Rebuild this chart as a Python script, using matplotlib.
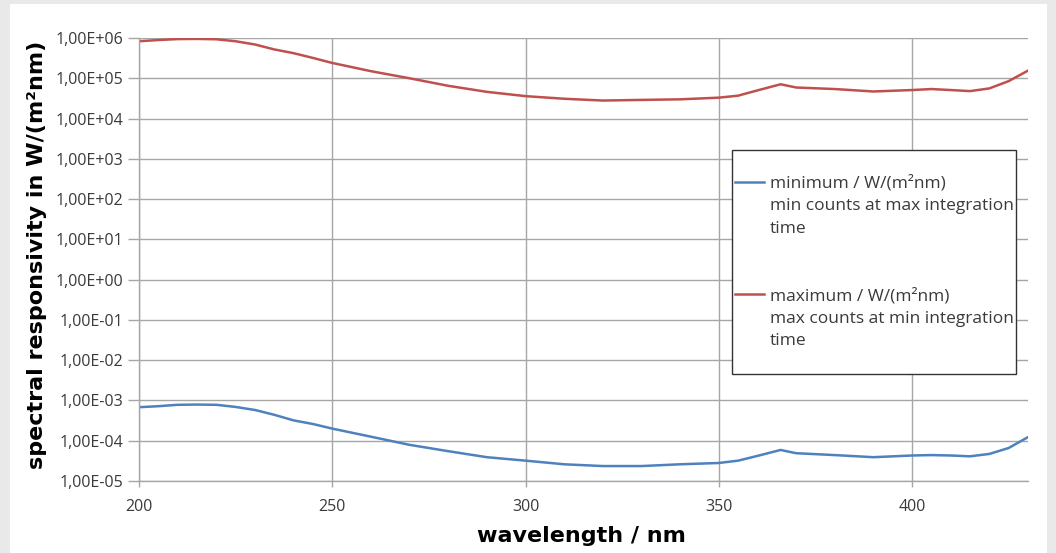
import matplotlib
matplotlib.use('Agg')
import matplotlib.pyplot as plt
from matplotlib.patches import Rectangle
from matplotlib.lines import Line2D
from matplotlib.ticker import FuncFormatter, FixedLocator

# longueurs d'onde en nm
wavelength = [200, 205, 210, 215, 220, 225, 230, 235, 240, 245, 250, 260, 270, 280,
              290, 300, 310, 320, 330, 340, 350, 355, 360, 366, 370, 380, 390, 400,
              405, 410, 415, 420, 425, 430]

# minimum / W/(m2nm)
minimum = [6.8e-4, 7.2e-4, 7.8e-4, 7.9e-4, 7.8e-4, 6.9e-4, 5.8e-4, 4.4e-4, 3.2e-4, 2.6e-4,
           2.0e-4, 1.26e-4, 7.9e-5, 5.5e-5, 3.9e-5, 3.2e-5, 2.6e-5, 2.35e-5, 2.35e-5, 2.6e-5,
           2.8e-5, 3.2e-5, 4.2e-5, 5.9e-5, 4.9e-5, 4.4e-5, 3.9e-5, 4.3e-5, 4.4e-5, 4.3e-5,
           4.1e-5, 4.7e-5, 6.6e-5, 1.23e-4]

# maximum / W/(m2nm)
maximum = [8.3e5, 8.9e5, 9.4e5, 9.5e5, 9.3e5, 8.3e5, 6.9e5, 5.2e5, 4.2e5, 3.2e5,
           2.4e5, 1.5e5, 1.0e5, 6.5e4, 4.6e4, 3.6e4, 3.1e4, 2.8e4, 2.9e4, 3.0e4,
           3.3e4, 3.7e4, 5.0e4, 7.1e4, 5.9e4, 5.4e4, 4.7e4, 5.1e4, 5.4e4, 5.1e4,
           4.8e4, 5.6e4, 8.5e4, 1.55e5]

x_ticks = [200, 250, 300, 350, 400]
y_ticks = [10.0**k for k in range(-5, 7)]

lab_min = ['minimum / W/(m²nm)', 'min counts at max integration', 'time']
lab_max = ['maximum / W/(m²nm)', 'max counts at min integration', 'time']

bleu = '#4f81bd'
rouge = '#c0504d'
gris = '#a6a6a6'

fig = plt.figure(figsize=(10.56, 5.53), dpi=100, facecolor='#e9e9e9')
fig.patches.append(Rectangle((10/1056, 0), 1037/1056, 549/553, transform=fig.transFigure,
                             facecolor='white', edgecolor='none', zorder=-1))
ax = fig.add_axes([139/1056, 72/553, 889/1056, 443/553])

ax.plot(wavelength, minimum, color=bleu, lw=1.8)
ax.plot(wavelength, maximum, color=rouge, lw=1.8)

ax.set_yscale('log')
ax.set_xlim(200, 430)
ax.set_ylim(1e-5, 1e6)
ax.xaxis.set_major_locator(FixedLocator(x_ticks))
ax.yaxis.set_major_locator(FixedLocator(y_ticks))
ax.yaxis.set_minor_locator(FixedLocator([]))
ax.yaxis.set_major_formatter(FuncFormatter(lambda v, p: ('%.2E' % v).replace('.', ',')))

ax.grid(True, color=gris, lw=1)
for s in ['top', 'right']:
    ax.spines[s].set_visible(False)
for s in ['left', 'bottom']:
    ax.spines[s].set_color(gris)
    ax.spines[s].set_linewidth(1)
ax.tick_params(axis='y', length=8, color=gris, width=1, labelsize=11.5,
               labelcolor='#3a3a3a', pad=3)
ax.tick_params(axis='x', length=4, color=gris, width=1, labelsize=11.5,
               labelcolor='#3a3a3a', pad=9)
for t in ax.get_xticklabels() + ax.get_yticklabels():
    t.set_fontfamily('Open Sans')

ax.set_xlabel('wavelength / nm', fontsize=16, fontweight='bold')
ax.set_ylabel('spectral responsivity in W/(m²nm)', fontsize=16, fontweight='bold')
ax.xaxis.set_label_coords(0.498, -0.102)
ax.yaxis.set_label_coords(-0.103, 0.51)

# legende : lignes vides pour placer le trait sur la premiere ligne du texte
vide = Line2D([], [], color='none')
handles = [vide, Line2D([], [], color=bleu, lw=1.8), vide, vide, vide, vide,
           Line2D([], [], color=rouge, lw=1.8), vide, vide, vide]
labels = [' '] + lab_min + [' ', ' '] + lab_max + [' ']
leg = ax.legend(handles, labels, loc='upper left', bbox_to_anchor=(0.667, 0.747),
                prop={'family': 'Open Sans', 'size': 12.5},
                frameon=True, fancybox=False, framealpha=1, edgecolor='#333333',
                handlelength=1.7, handletextpad=0.3, labelspacing=0.36,
                borderpad=0.17, borderaxespad=0)
leg.get_frame().set_linewidth(1)
for t in leg.get_texts():
    t.set_color('#3a3a3a')

plt.savefig('out.png', dpi=100, facecolor=fig.get_facecolor())
